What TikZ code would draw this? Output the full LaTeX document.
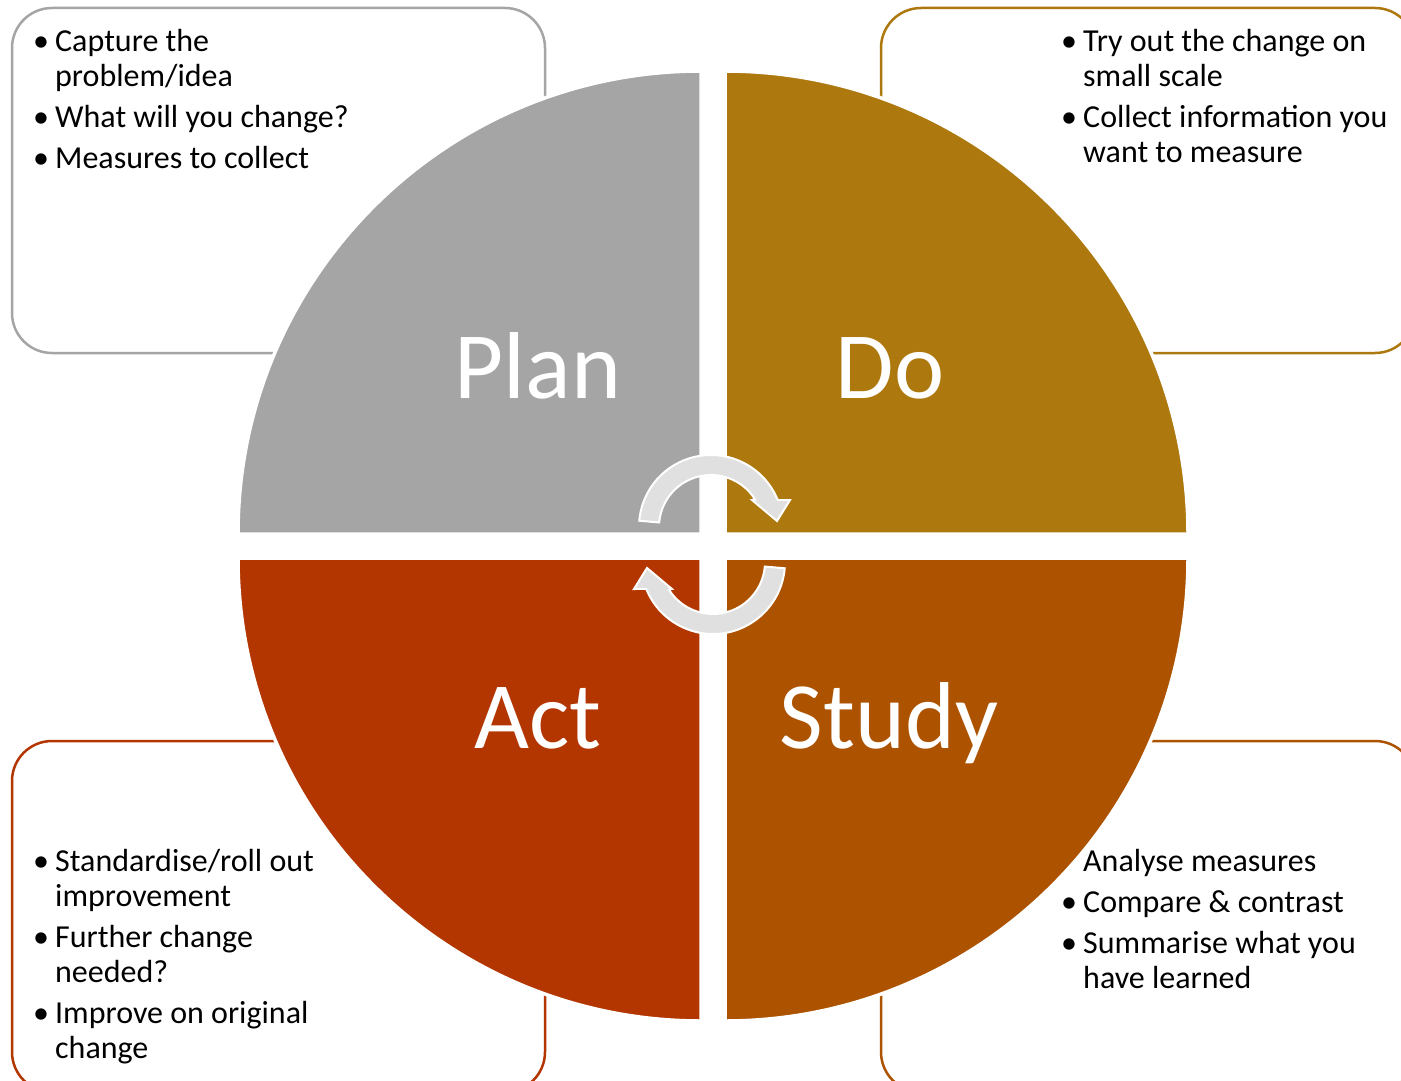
\documentclass[tikz,border=0pt]{standalone}
\usepackage{fontspec}
\setmainfont{Carlito}
\definecolor{cPlan}{HTML}{A5A5A5}
\definecolor{cDo}{HTML}{AD790F}
\definecolor{cAct}{HTML}{B33600}
\definecolor{cStudy}{HTML}{AD5300}
\definecolor{cArrow}{HTML}{E0E0E0}
\newcommand\bl{\makebox[22pt][l]{\textbullet}}
\tikzset{
  infobox/.style={draw=#1, line width=2.5pt, rounded corners=40pt, fill=white},
  quad/.style={fill=#1, draw=white, line width=3.5pt},
  biglab/.style={text=white, inner sep=0pt, anchor=base, font=\fontsize{95}{100}\selectfont},
  listtxt/.style={inner sep=0pt, anchor=base west, font=\fontsize{32}{35}\selectfont},
  cyclearrow/.style={fill=cArrow, draw=white, line width=2pt, line join=miter}
}
\begin{document}
\begin{tikzpicture}[x=1pt,y=-1pt]
\useasboundingbox (0,0) rectangle (1401,1081);
\clip (0,0) rectangle (1401,1081);
\fill[white] (0,0) rectangle (1401,1081);

% boxes
\draw[infobox=cPlan] (12,8) rectangle (545,353);
\draw[infobox=cDo] (881,8) rectangle (1415,353);
\draw[infobox=cAct] (12,741) rectangle (545,1092);
\draw[infobox=cStudy] (881,741) rectangle (1415,1092);

% quadrants
\draw[quad=cPlan] (701,534) -- (238,534) arc[start angle=180, end angle=270, radius=463] -- cycle;
\draw[quad=cDo] (725,534) -- (725,71) arc[start angle=270, end angle=360, radius=463] -- cycle;
\draw[quad=cStudy] (725,558) -- (1188,558) arc[start angle=0, end angle=90, radius=463] -- cycle;
\draw[quad=cAct] (701,558) -- (701,1021) arc[start angle=90, end angle=180, radius=463] -- cycle;

% labels
\node[biglab] (plan) at (538,398) {Plan};
\node[biglab] (do) at (890,398) {Do};
\node[biglab] (act) at (538,748) {Act};
\node[biglab] (study) at (889,748) {Study};

% cycle arrows
\path[cyclearrow] (639.27,520.72) arc[start angle=-175, end angle=-22, radius=72]
  -- (790,500) -- (777,521) -- (752,500) -- (755.10,499.44)
  arc[start angle=-32, end angle=-175, radius=52] -- cycle;
\path[cyclearrow] (784.73,568.28) arc[start angle=5, end angle=158, radius=72]
  -- (634,589) -- (647,568) -- (672,589) -- (668.90,589.56)
  arc[start angle=148, end angle=5, radius=52] -- cycle;

% texts
\node[listtxt] (tplan) at (33,52) {\begin{tabular}[t]{@{}l@{}l@{}}
\bl & Capture the\\
    & problem/idea\\[6pt]
\bl & What will you change?\\[6pt]
\bl & Measures to collect
\end{tabular}};
\node[listtxt] (tdo) at (1061,52) {\begin{tabular}[t]{@{}l@{}l@{}}
\bl & Try out the change on\\
    & small scale\\[6pt]
\bl & Collect information you\\
    & want to measure
\end{tabular}};
\node[listtxt] (tact) at (33,871) {\begin{tabular}[t]{@{}l@{}l@{}}
\bl & Standardise/roll out\\
    & improvement\\[6pt]
\bl & Further change\\
    & needed?\\[6pt]
\bl & Improve on original\\
    & change
\end{tabular}};
\node[listtxt] (tstudy) at (1061,871) {\begin{tabular}[t]{@{}l@{}l@{}}
\makebox[22pt][l]{} & Analyse measures\\[6pt]
\bl & Compare \& contrast\\[6pt]
\bl & Summarise what you\\
    & have learned
\end{tabular}};
\end{tikzpicture}
\end{document}
